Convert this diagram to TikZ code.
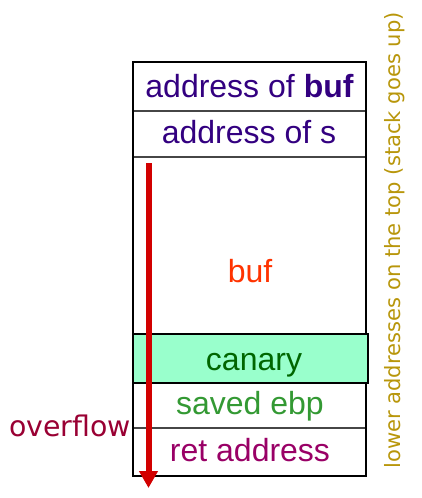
\documentclass[tikz,border=0pt]{standalone}
\usepackage{fontspec}
\setmainfont{Liberation Sans}
\newfontfamily\dejavu{DejaVu Sans}
\usetikzlibrary{arrows.meta}
\definecolor{addrcol}{RGB}{51,0,128}
\definecolor{bufcol}{RGB}{255,51,0}
\definecolor{canarycol}{RGB}{0,102,0}
\definecolor{ebpcol}{RGB}{51,153,51}
\definecolor{retcol}{RGB}{153,0,102}
\definecolor{ovfcol}{RGB}{153,0,51}
\definecolor{notecol}{RGB}{184,150,11}
\definecolor{arrcol}{RGB}{210,0,0}
\definecolor{mint}{RGB}{153,255,204}
\definecolor{sepcol}{RGB}{70,70,70}
\tikzset{
  celltext/.style={anchor=base, inner sep=0pt, font=\fontsize{32}{38}\selectfont},
  sepline/.style={draw=sepcol, line width=1.3pt},
  outerbox/.style={draw=black, line width=2pt},
}
\begin{document}
\begin{tikzpicture}[x=1pt,y=-1pt]
\useasboundingbox (0,0) rectangle (421,498);
% rows
\draw[sepline] (133,111) -- (366,111);
\draw[sepline] (133,157) -- (366,157);
\draw[sepline] (133,428) -- (366,428);
\draw[outerbox] (133,62) rectangle (366,476);
\draw[draw=black, fill=mint, line width=1.8pt] (133,334) rectangle (368,383);
% texts
\node[celltext, text=addrcol] (abuf) at (249.5,97) {address of \textbf{buf}};
\node[celltext, text=addrcol] (as) at (249,143) {address of s};
\node[celltext, text=bufcol] (buf) at (250,282) {buf};
\node[celltext, text=canarycol] (canary) at (254,370) {canary};
\node[celltext, text=ebpcol] (ebp) at (250,414) {saved ebp};
\node[celltext, text=retcol] (ret) at (250,461.5) {ret address};
\node[anchor=base west, inner sep=0pt, text=ovfcol, font=\dejavu\fontsize{28.4}{34}\selectfont] (ovf) at (9,436) {overflow};
\node[anchor=base, inner sep=0pt, rotate=90, text=notecol, font=\dejavu\fontsize{21.1}{25}\selectfont] (note) at (400,240.5) {lower addresses on the top (stack goes up)};
% arrow
\coordinate (arrtop) at (148.5,163);
\coordinate (arrtip) at (148.5,488);
\draw[arrcol, line width=6pt, -{Triangle[width=18pt,length=17pt]}] (arrtop) -- (arrtip);
\end{tikzpicture}
\end{document}
